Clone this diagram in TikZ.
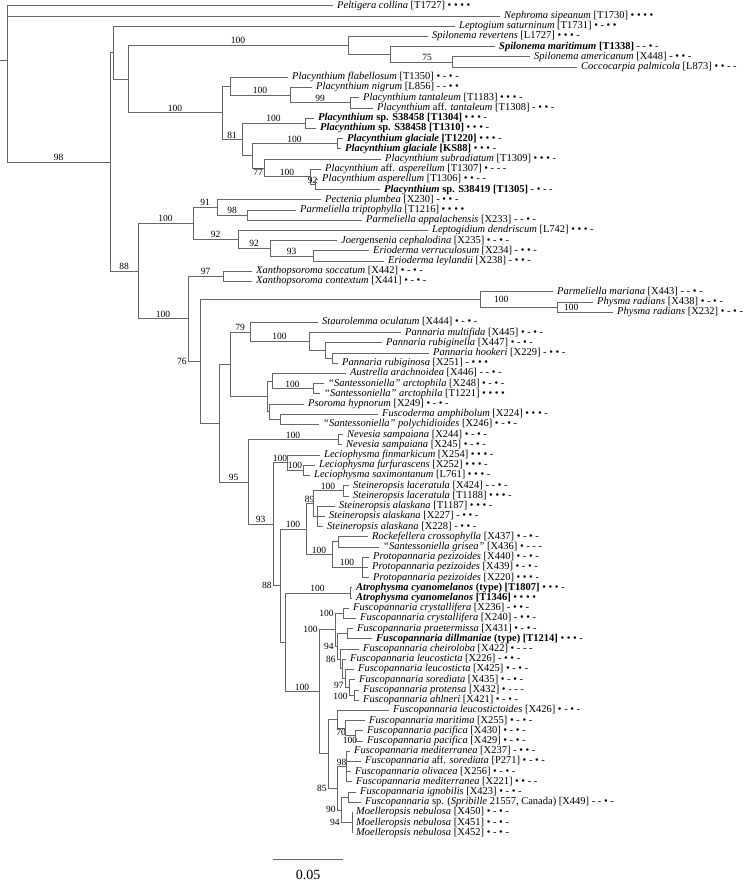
\documentclass[tikz,border=0pt]{standalone}
\usepackage{fontspec}
\setmainfont{Liberation Serif}
\usepackage{tikz}
\usetikzlibrary{positioning}
\tikzstyle{branch} = [draw, black!60, line width=0.75pt]
\newcommand{\locus}[1]{\if1#1\textbullet\else-\fi}
\newcommand{\loci}[1]{\lociparts#1}
\def\lociparts#1#2#3#4{\locus#1\ \locus#2\ \locus#3\ \locus#4}
\begin{document}
\begin{tikzpicture}[x=1pt, y=-10.21pt,
	taxon/.style={anchor=west, inner xsep=4pt, inner ysep=0pt, text height=7pt, text depth=2pt,
		font=\fontsize{10.5}{12}\selectfont},
	bs/.style={inner sep=1pt, text=black, font=\fontsize{9.5}{11}\selectfont}]
	\useasboundingbox (0,0.433) rectangle (748,87.01);
	%% Internal nodes
	\coordinate (stub) at (0,6.3);
	\coordinate (root) at (7,6.3);
	\coordinate (A) at (110,16.29);
	\coordinate (B) at (113,5.59);
	\coordinate (D) at (128,8.18);
	\coordinate (E) at (348,4.875);
	\coordinate (G) at (390,5.75);
	\coordinate (H) at (452,6.5);
	\coordinate (F) at (222,11.484);
	\coordinate (Nflab) at (230,8.875);
	\coordinate (Nnig) at (290,9.75);
	\coordinate (Ntan) at (350,10.5);
	\coordinate (N81) at (242,14.094);
	\coordinate (Nsp) at (305,12.5);
	\coordinate (Ngl2) at (252,15.6875);
	\coordinate (Ngla) at (337,14.5);
	\coordinate (N77) at (264,16.875);
	\coordinate (Nasp) at (310,17.75);
	\coordinate (N92p) at (315,18.5);
	\coordinate (NC) at (138,26.98);
	\coordinate (N100c) at (193,22.3125);
	\coordinate (N91) at (217,20.75);
	\coordinate (N98p) at (247,21.5);
	\coordinate (N92a) at (238,23.875);
	\coordinate (N92b) at (270,24.75);
	\coordinate (N93e) at (313,25.5);
	\coordinate (NI) at (188,31.65);
	\coordinate (N97x) at (223,27.5);
	\coordinate (N76) at (200,35.81);
	\coordinate (Nmar) at (480,29.75);
	\coordinate (Nphy) at (557,30.5);
	\coordinate (NJ) at (219,41.87);
	\coordinate (N230) at (230,36.094);
	\coordinate (N79) at (250,32.9375);
	\coordinate (N309) at (309,33.875);
	\coordinate (N325) at (325,34.75);
	\coordinate (N332) at (332,35.5);
	\coordinate (N267) at (267,39.25);
	\coordinate (N272) at (272,37.75);
	\coordinate (Nsa) at (313,38.5);
	\coordinate (N269) at (269,40.75);
	\coordinate (N280) at (280,41.5);
	\coordinate (N95) at (248,47.64);
	\coordinate (Nnev) at (338,43.5);
	\coordinate (N93b) at (273,51.77);
	\coordinate (N287) at (287,45.75);
	\coordinate (N303) at (303,46.5);
	\coordinate (N88b) at (280,57.80);
	\coordinate (NS100) at (306,52.25);
	\coordinate (N89) at (313,49.75);
	\coordinate (Nlac) at (343,48.5);
	\coordinate (Nala) at (317,51);
	\coordinate (NRP) at (332,54.75);
	\coordinate (Nrock) at (338,53.5);
	\coordinate (Nproto) at (362,56);
	\coordinate (N285) at (285,63.34);
	\coordinate (Natro) at (350,58.5);
	\coordinate (Nfus) at (319,68.19);
	\coordinate (NU) at (335,62.12);
	\coordinate (Ncry) at (343,60.5);
	\coordinate (NV) at (337,63.73);
	\coordinate (Nw) at (347,62.5);
	\coordinate (NX) at (340,64.97);
	\coordinate (N342) at (342,65.9375);
	\coordinate (N345) at (345,66.875);
	\coordinate (N97s) at (349,67.75);
	\coordinate (Npa) at (354,68.5);
	\coordinate (Nlo) at (328,74.25);
	\coordinate (Nlo1) at (337,70.875);
	\coordinate (N70) at (345,71.75);
	\coordinate (Npac) at (355,72.5);
	\coordinate (N85) at (337,77.625);
	\coordinate (N98m) at (346,75.5);
	\coordinate (N90) at (341,79.75);
	\coordinate (Nign) at (348,78.5);
	\coordinate (Nmoe) at (352,81);
	%% Taxa
	\node [taxon] (Lpcol) at (333,1) {\textit{Peltigera collina} [T1727] \loci{1111}};
	\node [taxon] (Lnsip) at (500,2) {\textit{Nephroma sipeanum} [T1730] \loci{1111}};
	\node [taxon] (Llsat) at (455,3) {\textit{Leptogium saturninum} [T1731] \loci{1011}};
	\node [taxon] (Lsrev) at (428,4) {\textit{Spilonema revertens} [L1727] \loci{1110}};
	\node [taxon] (Lsmar) at (495,5) {\textbf{\textit{Spilonema maritimum} [T1338]} \loci{0010}};
	\node [taxon] (Lsame) at (530,6) {\textit{Spilonema americanum} [X448] \loci{0110}};
	\node [taxon] (Lcpal) at (577,7) {\textit{Coccocarpia palmicola} [L873] \loci{1100}};
	\node [taxon] (Lpfla) at (288,8) {\textit{Placynthium flabellosum} [T1350] \loci{1010}};
	\node [taxon] (Lpnig) at (312,9) {\textit{Placynthium nigrum} [L856] \loci{0011}};
	\node [taxon] (Lptan) at (359,10) {\textit{Placynthium tantaleum} [T1183] \loci{1110}};
	\node [taxon] (Lptan2) at (373,11) {\textit{Placynthium} aff. \textit{tantaleum} [T1308] \loci{0110}};
	\node [taxon] (Lpsp1) at (314,12) {\textbf{\textit{Placynthium} sp. S38458 [T1304]} \loci{1110}};
	\node [taxon] (Lpsp2) at (316,13) {\textbf{\textit{Placynthium} sp. S38458 [T1310]} \loci{1110}};
	\node [taxon] (Lpgla1) at (343,14) {\textbf{\textit{Placynthium glaciale} [T1220]} \loci{1110}};
	\node [taxon] (Lpgla2) at (341,15) {\textbf{\textit{Placynthium glaciale} [KS88]} \loci{1110}};
	\node [taxon] (Lpsub) at (381,16) {\textit{Placynthium subradiatum} [T1309] \loci{1110}};
	\node [taxon] (Lpasp1) at (321,17) {\textit{Placynthium} aff. \textit{asperellum} [T1307] \loci{1000}};
	\node [taxon] (Lpasp2) at (318,18) {\textit{Placynthium asperellum} [T1306] \loci{1100}};
	\node [taxon] (Lpsp3) at (380,19) {\textbf{\textit{Placynthium} sp. S38419 [T1305]} \loci{0100}};
	\node [taxon] (Lpepl) at (321,20) {\textit{Pectenia plumbea} [X230] \loci{0110}};
	\node [taxon] (Lpatr) at (296,21) {\textit{Parmeliella triptophylla} [T1216] \loci{1111}};
	\node [taxon] (Lpaap) at (362,22) {\textit{Parmeliella appalachensis} [X233] \loci{0010}};
	\node [taxon] (Lldde) at (428,23) {\textit{Leptogidium dendriscum} [L742] \loci{1110}};
	\node [taxon] (Ljoce) at (337,24) {\textit{Joergensenia cephalodina} [X235] \loci{1010}};
	\node [taxon] (Lerve) at (369,25) {\textit{Erioderma verruculosum} [X234] \loci{0110}};
	\node [taxon] (Lerle) at (384,26) {\textit{Erioderma leylandii} [X238] \loci{0110}};
	\node [taxon] (Lxaso) at (252,27) {\textit{Xanthopsoroma soccatum} [X442] \loci{1010}};
	\node [taxon] (Lxaco) at (252,28) {\textit{Xanthopsoroma contextum} [X441] \loci{1010}};
	\node [taxon] (Lpama) at (553,29) {\textit{Parmeliella mariana} [X443] \loci{0010}};
	\node [taxon] (Lphra1) at (593,30) {\textit{Physma radians} [X438] \loci{1010}};
	\node [taxon] (Lphra2) at (613,31) {\textit{Physma radians} [X232] \loci{1010}};
	\node [taxon] (Lstoc) at (318,32) {\textit{Staurolemma oculatum} [X444] \loci{1010}};
	\node [taxon] (Lpamu) at (401,33) {\textit{Pannaria multifida} [X445] \loci{1010}};
	\node [taxon] (Lparg) at (382,34) {\textit{Pannaria rubiginella} [X447] \loci{1010}};
	\node [taxon] (Lpaho) at (429,35) {\textit{Pannaria hookeri} [X229] \loci{0110}};
	\node [taxon] (Lparu) at (338,36) {\textit{Pannaria rubiginosa} [X251] \loci{0111}};
	\node [taxon] (Lauar) at (346,37) {\textit{Austrella arachnoidea} [X446] \loci{0010}};
	\node [taxon] (Lsaar1) at (324,38) {\textit{``Santessoniella'' arctophila} [X248] \loci{1010}};
	\node [taxon] (Lsaar2) at (320,39) {\textit{``Santessoniella'' arctophila} [T1221] \loci{1111}};
	\node [taxon] (Lpshy) at (304,40) {\textit{Psoroma hypnorum} [X249] \loci{1010}};
	\node [taxon] (Lfuam) at (378,41) {\textit{Fuscoderma amphibolum} [X224] \loci{1110}};
	\node [taxon] (Lsapo) at (319,42) {\textit{``Santessoniella'' polychidioides} [X246] \loci{1010}};
	\node [taxon] (Lnesa1) at (343,43) {\textit{Nevesia sampaiana} [X244] \loci{1010}};
	\node [taxon] (Lnesa2) at (342,44) {\textit{Nevesia sampaiana} [X245] \loci{1010}};
	\node [taxon] (Llefi) at (320,45) {\textit{Leciophysma finmarkicum} [X254] \loci{1110}};
	\node [taxon] (Llefu) at (315,46) {\textit{Leciophysma furfurascens} [X252] \loci{1110}};
	\node [taxon] (Llesa) at (310,47) {\textit{Leciophysma saximontanum} [L761] \loci{1110}};
	\node [taxon] (Lstla1) at (349,48) {\textit{Steineropsis laceratula} [X424] \loci{0010}};
	\node [taxon] (Lstla2) at (349,49) {\textit{Steineropsis laceratula} [T1188] \loci{1110}};
	\node [taxon] (Lstal1) at (335,50) {\textit{Steineropsis alaskana} [T1187] \loci{1110}};
	\node [taxon] (Lstal2) at (325,51) {\textit{Steineropsis alaskana} [X227] \loci{0110}};
	\node [taxon] (Lstal3) at (323,52) {\textit{Steineropsis alaskana} [X228] \loci{0110}};
	\node [taxon] (Lrocr) at (368,53) {\textit{Rockefellera crossophylla} [X437] \loci{1010}};
	\node [taxon] (Lsagr) at (379,54) {\textit{``Santessoniella grisea''} [X436] \loci{1000}};
	\node [taxon] (Lprpe1) at (369,55) {\textit{Protopannaria pezizoides} [X440] \loci{1010}};
	\node [taxon] (Lprpe2) at (368,56) {\textit{Protopannaria pezizoides} [X439] \loci{1010}};
	\node [taxon] (Lprpe3) at (369,57) {\textit{Protopannaria pezizoides} [X220] \loci{1110}};
	\node [taxon] (Latcy1) at (352,58) {\textbf{\textit{Atrophysma cyanomelanos} (type) [T1807]} \loci{1110}};
	\node [taxon] (Latcy2) at (352,59) {\textbf{\textit{Atrophysma cyanomelanos} [T1346]} \loci{1111}};
	\node [taxon] (Lfucr1) at (349,60) {\textit{Fuscopannaria crystallifera} [X236] \loci{0110}};
	\node [taxon] (Lfucr2) at (356,61) {\textit{Fuscopannaria crystallifera} [X240] \loci{0110}};
	\node [taxon] (Lfupr) at (353,62) {\textit{Fuscopannaria praetermissa} [X431] \loci{1010}};
	\node [taxon] (Lfudi) at (372,63) {\textbf{\textit{Fuscopannaria dillmaniae} (type) [T1214]} \loci{1110}};
	\node [taxon] (Lfuch) at (359,64) {\textit{Fuscopannaria cheiroloba} [X422] \loci{1000}};
	\node [taxon] (Lfule1) at (346,65) {\textit{Fuscopannaria leucosticta} [X226] \loci{0110}};
	\node [taxon] (Lfule2) at (354,66) {\textit{Fuscopannaria leucosticta} [X425] \loci{1010}};
	\node [taxon] (Lfuso) at (355,67) {\textit{Fuscopannaria sorediata} [X435] \loci{1010}};
	\node [taxon] (Lfupt) at (359,68) {\textit{Fuscopannaria protensa} [X432] \loci{1000}};
	\node [taxon] (Lfuah) at (359,69) {\textit{Fuscopannaria ahlneri} [X421] \loci{1010}};
	\node [taxon] (Lfult) at (389,70) {\textit{Fuscopannaria leucostictoides} [X426] \loci{1010}};
	\node [taxon] (Lfuma) at (365,71) {\textit{Fuscopannaria maritima} [X255] \loci{1010}};
	\node [taxon] (Lfupa1) at (363,72) {\textit{Fuscopannaria pacifica} [X430] \loci{1010}};
	\node [taxon] (Lfupa2) at (363,73) {\textit{Fuscopannaria pacifica} [X429] \loci{1010}};
	\node [taxon] (Lfume1) at (350,74) {\textit{Fuscopannaria mediterranea} [X237] \loci{0110}};
	\node [taxon] (Lfuaso) at (361,75) {\textit{Fuscopannaria} aff. \textit{sorediata} [P271] \loci{1010}};
	\node [taxon] (Lfuol) at (351,76) {\textit{Fuscopannaria olivacea} [X256] \loci{1010}};
	\node [taxon] (Lfume2) at (352,77) {\textit{Fuscopannaria mediterranea} [X221] \loci{1100}};
	\node [taxon] (Lfuig) at (356,78) {\textit{Fuscopannaria ignobilis} [X423] \loci{1010}};
	\node [taxon] (Lfusp) at (361,79) {\textit{Fuscopannaria} sp. (\textit{Spribille} 21557, Canada) [X449] \loci{0010}};
	\node [taxon] (Lmone1) at (352,80) {\textit{Moelleropsis nebulosa} [X450] \loci{1010}};
	\node [taxon] (Lmone2) at (352,81) {\textit{Moelleropsis nebulosa} [X451] \loci{1010}};
	\node [taxon] (Lmone3) at (352,82) {\textit{Moelleropsis nebulosa} [X452] \loci{1010}};
	%% Root and outgroups
	\path [branch] (stub) -- (root);
	\path [branch] (root) |- (Lpcol);
	\path [branch] (root) |- (Lnsip);
	\path [branch] (root) |- node [bs, pos=.75, above] {98} (A);
	%% Spilonema, Placynthium
	\path [branch] (A) |- (B);
	\path [branch] (B) |- (Llsat);
	\path [branch] (B) |- (D);
	\path [branch] (D) |- node [bs, pos=.75, above] {100} (E);
	\path [branch] (E) |- (Lsrev);
	\path [branch] (E) |- (G);
	\path [branch] (G) |- (Lsmar);
	\path [branch] (G) |- node [bs, pos=.8, above] {75} (H);
	\path [branch] (H) |- (Lsame);
	\path [branch] (H) |- (Lcpal);
	\path [branch] (D) |- node [bs, pos=.75, above] {100} (F);
	\path [branch] (F) |- (Nflab);
	\path [branch] (Nflab) |- (Lpfla);
	\path [branch] (Nflab) |- node [bs, pos=.75, above] {100} (Nnig);
	\path [branch] (Nnig) |- (Lpnig);
	\path [branch] (Nnig) |- node [bs, pos=.75, above] {99} (Ntan);
	\path [branch] (Ntan) |- (Lptan);
	\path [branch] (Ntan) |- (Lptan2);
	\path [branch] (F) |- node [bs, pos=.75, above] {81} (N81);
	\path [branch] (N81) |- node [bs, pos=.75, above] {100} (Nsp);
	\path [branch] (Nsp) |- (Lpsp1);
	\path [branch] (Nsp) |- (Lpsp2);
	\path [branch] (N81) |- (Ngl2);
	\path [branch] (Ngl2) |- node [bs, pos=.75, above] {100} (Ngla);
	\path [branch] (Ngla) |- (Lpgla1);
	\path [branch] (Ngla) |- (Lpgla2);
	\path [branch] (Ngl2) |- node [bs, pos=.75, below] {77} (N77);
	\path [branch] (N77) |- (Lpsub);
	\path [branch] (N77) |- node [bs, pos=.75, above] {100} (Nasp);
	\path [branch] (Nasp) |- (Lpasp1);
	\path [branch] (Nasp) |- node [bs, pos=.75, above] {92} (N92p);
	\path [branch] (N92p) |- (Lpasp2);
	\path [branch] (N92p) |- (Lpsp3);
	%% Pectenia to Physma
	\path [branch] (A) |- node [bs, pos=.75, above] {88} (NC);
	\path [branch] (NC) |- node [bs, pos=.75, above] {100} (N100c);
	\path [branch] (N100c) |- node [bs, pos=.75, above] {91} (N91);
	\path [branch] (N91) |- (Lpepl);
	\path [branch] (N91) |- node [bs, pos=.75, above] {98} (N98p);
	\path [branch] (N98p) |- (Lpatr);
	\path [branch] (N98p) |- (Lpaap);
	\path [branch] (N100c) |- node [bs, pos=.75, above] {92} (N92a);
	\path [branch] (N92a) |- (Lldde);
	\path [branch] (N92a) |- node [bs, pos=.75, above] {92} (N92b);
	\path [branch] (N92b) |- (Ljoce);
	\path [branch] (N92b) |- node [bs, pos=.75, above] {93} (N93e);
	\path [branch] (N93e) |- (Lerve);
	\path [branch] (N93e) |- (Lerle);
	\path [branch] (NC) |- node [bs, pos=.75, above] {100} (NI);
	\path [branch] (NI) |- node [bs, pos=.75, above] {97} (N97x);
	\path [branch] (N97x) |- (Lxaso);
	\path [branch] (N97x) |- (Lxaco);
	\path [branch] (NI) |- node [bs, pos=.5, left] {76} (N76);
	\path [branch] (N76) |- (Nmar);
	\path [branch] (Nmar) |- (Lpama);
	\path [branch] (Nmar) |- (Nphy);
	\path [branch] (Nphy) |- (Lphra1);
	\path [branch] (Nphy) |- (Lphra2);
	\node [bs, right=13pt of Nmar] (BSmar) {100};
	\node [bs, right=6pt of Nphy] (BSphy) {100};
	%% Pannaria, Psoroma
	\path [branch] (N76) |- (NJ);
	\path [branch] (NJ) |- (N230);
	\path [branch] (N230) |- node [bs, pos=.75, above] {79} (N79);
	\path [branch] (N79) |- (Lstoc);
	\path [branch] (N79) |- node [bs, pos=.75, above] {100} (N309);
	\path [branch] (N309) |- (Lpamu);
	\path [branch] (N309) |- (N325);
	\path [branch] (N325) |- (Lparg);
	\path [branch] (N325) |- (N332);
	\path [branch] (N332) |- (Lpaho);
	\path [branch] (N332) |- (Lparu);
	\path [branch] (N230) |- (N267);
	\path [branch] (N267) |- (N272);
	\path [branch] (N272) |- (Lauar);
	\path [branch] (N272) |- node [bs, pos=.75, above] {100} (Nsa);
	\path [branch] (Nsa) |- (Lsaar1);
	\path [branch] (Nsa) |- (Lsaar2);
	\path [branch] (N267) |- (N269);
	\path [branch] (N269) |- (Lpshy);
	\path [branch] (N269) |- (N280);
	\path [branch] (N280) |- (Lfuam);
	\path [branch] (N280) |- (Lsapo);
	%% Nevesia to Protopannaria
	\path [branch] (NJ) |- node [bs, pos=.75, above] {95} (N95);
	\path [branch] (N95) |- node [bs, pos=.75, above] {100} (Nnev);
	\path [branch] (Nnev) |- (Lnesa1);
	\path [branch] (Nnev) |- (Lnesa2);
	\path [branch] (N95) |- node [bs, pos=.75, above] {93} (N93b);
	\path [branch] (N93b) |- node [bs, pos=.75, above] {100} (N287);
	\path [branch] (N287) |- (Llefi);
	\path [branch] (N287) |- node [bs, pos=.75, above] {100} (N303);
	\path [branch] (N303) |- (Llefu);
	\path [branch] (N303) |- (Llesa);
	\path [branch] (N93b) |- node [bs, pos=.5, left] {88} (N88b);
	\path [branch] (N88b) |- node [bs, pos=.75, above] {100} (NS100);
	\path [branch] (NS100) |- node [bs, pos=.75, above] {89} (N89);
	\path [branch] (N89) |- node [bs, pos=.75, above] {100} (Nlac);
	\path [branch] (Nlac) |- (Lstla1);
	\path [branch] (Nlac) |- (Lstla2);
	\path [branch] (N89) |- (Nala);
	\path [branch] (Nala) |- (Lstal1);
	\path [branch] (Nala) |- (Lstal2);
	\path [branch] (Nala) |- (Lstal3);
	\path [branch] (NS100) |- node [bs, pos=.75, above] {100} (NRP);
	\path [branch] (NRP) |- (Nrock);
	\path [branch] (Nrock) |- (Lrocr);
	\path [branch] (Nrock) |- (Lsagr);
	\path [branch] (NRP) |- node [bs, pos=.75, above] {100} (Nproto);
	\path [branch] (Nproto) |- (Lprpe1);
	\path [branch] (Nproto) |- (Lprpe2);
	\path [branch] (Nproto) |- (Lprpe3);
	%% Atrophysma, Fuscopannaria, Moelleropsis
	\path [branch] (N88b) |- (N285);
	\path [branch] (N285) |- node [bs, pos=.75, above] {100} (Natro);
	\path [branch] (Natro) |- (Latcy1);
	\path [branch] (Natro) |- (Latcy2);
	\path [branch] (N285) |- node [bs, pos=.75, above] {100} (Nfus);
	\path [branch] (Nfus) |- node [bs, pos=.5, left] {100} (NU);
	\path [branch] (NU) |- node [bs, pos=.5, left] {100} (Ncry);
	\path [branch] (Ncry) |- (Lfucr1);
	\path [branch] (Ncry) |- (Lfucr2);
	\path [branch] (NU) |- node [bs, pos=.5, left] {94} (NV);
	\path [branch] (NV) |- (Nw);
	\path [branch] (Nw) |- (Lfupr);
	\path [branch] (Nw) |- (Lfudi);
	\path [branch] (NV) |- node [bs, pos=.5, left] {86} (NX);
	\path [branch] (NX) |- (Lfuch);
	\path [branch] (NX) |- (N342);
	\path [branch] (N342) |- (Lfule1);
	\path [branch] (N342) |- (N345);
	\path [branch] (N345) |- (Lfule2);
	\path [branch] (N345) |- node [bs, pos=.5, left, yshift=1.8pt] {97} (N97s);
	\path [branch] (N97s) |- (Lfuso);
	\path [branch] (N97s) |- node [bs, pos=.5, left, yshift=-1.2pt] {100} (Npa);
	\path [branch] (Npa) |- (Lfupt);
	\path [branch] (Npa) |- (Lfuah);
	\path [branch] (Nfus) |- (Nlo);
	\path [branch] (Nlo) |- (Nlo1);
	\path [branch] (Nlo1) |- (Lfult);
	\path [branch] (Nlo1) |- node [bs, pos=.75, below] {70} (N70);
	\path [branch] (N70) |- (Lfuma);
	\path [branch] (N70) |- node [bs, pos=.75, below] {100} (Npac);
	\path [branch] (Npac) |- (Lfupa1);
	\path [branch] (Npac) |- (Lfupa2);
	\path [branch] (Nlo) |- node [bs, pos=.5, left] {85} (N85);
	\path [branch] (N85) |- node [bs, pos=.75, above] {98} (N98m);
	\path [branch] (N98m) |- (Lfume1);
	\path [branch] (N98m) |- (Lfuaso);
	\path [branch] (N98m) |- (Lfuol);
	\path [branch] (N98m) |- (Lfume2);
	\path [branch] (N85) |- node [bs, pos=.5, left] {90} (N90);
	\path [branch] (N90) |- (Nign);
	\path [branch] (Nign) |- (Lfuig);
	\path [branch] (Nign) |- (Lfusp);
	\path [branch] (N90) |- node [bs, pos=.5, left] {94} (Nmoe);
	\path [branch] (Nmoe) |- (Lmone1);
	\path [branch] (Nmoe) |- (Lmone2);
	\path [branch] (Nmoe) |- (Lmone3);
	%% Scale bar
	\coordinate (SBl) at (273,84.57);
	\coordinate (SBr) at (343,84.57);
	\path [branch] (SBl) -- node [below=11pt, inner sep=0pt, text=black, font=\fontsize{14}{16}\selectfont] (SBtext) {0.05} (SBr);
\end{tikzpicture}
\end{document}
